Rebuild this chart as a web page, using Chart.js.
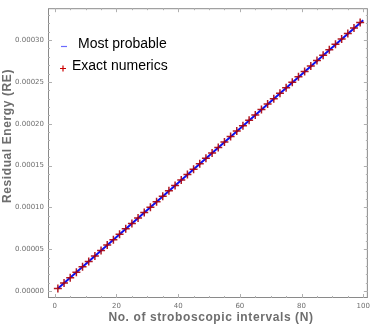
<!DOCTYPE html>
<html><head><meta charset="utf-8">
<script src="https://cdn.jsdelivr.net/npm/chart.js@4.4.1/dist/chart.umd.min.js"></script>
<style>html,body{margin:0;padding:0;background:#fff}#w{width:374px;height:327px}</style>
</head><body><div id="w"><canvas id="c"></canvas></div>
<script>
const seriesNames = ["Most probable", "Exact numerics"];
const exactN = [1,3,5,7,9,11,13,15,17,19,21,23,25,27,29,31,33,35,37,39,41,43,45,47,49,51,53,55,57,59,61,63,65,67,69,71,73,75,77,79,81,83,85,87,89,91,93,95,97,99];
const exactRE = [3.2e-6,9.7e-6,16.2e-6,22.7e-6,29.2e-6,35.6e-6,42.1e-6,48.6e-6,55.1e-6,61.6e-6,68.0e-6,74.5e-6,81.0e-6,87.5e-6,94.0e-6,100.4e-6,106.9e-6,113.4e-6,119.9e-6,126.4e-6,132.8e-6,139.3e-6,145.8e-6,152.3e-6,158.8e-6,165.2e-6,171.7e-6,178.2e-6,184.7e-6,191.2e-6,197.6e-6,204.1e-6,210.6e-6,217.1e-6,223.6e-6,230.0e-6,236.5e-6,243.0e-6,249.5e-6,256.0e-6,262.4e-6,268.9e-6,275.4e-6,281.9e-6,288.4e-6,294.8e-6,301.3e-6,307.8e-6,314.3e-6,320.8e-6];
const probableN = [1,25,50,75,100];
const probableRE = [3.2e-6,80.8e-6,161.8e-6,242.6e-6,323.5e-6];
const xTicks = [0,20,40,60,80,100];
const yTicks = [0,0.00005,0.0001,0.00015,0.0002,0.00025,0.0003];
const xTitle = "No. of stroboscopic intervals (N)";
const yTitle = "Residual Energy (RE)";

const frameColor = '#8a8a8a';
const framePlugin = {
  id:'frame',
  afterDraw(chart){
    const {ctx, chartArea:a, scales:{x,y}} = chart;
    ctx.save();
    ctx.strokeStyle = frameColor; ctx.lineWidth = 1;
    ctx.strokeRect(a.left+0.5, a.top+0.5, a.right-a.left-1, a.bottom-a.top-1);
    ctx.strokeStyle = '#b0b0b0';
    for (let v=0; v<=100; v+=5){
      const px = Math.round(x.getPixelForValue(v))+0.5;
      const L = (v%20===0)?4:2;
      ctx.beginPath(); ctx.moveTo(px,a.bottom); ctx.lineTo(px,a.bottom-L);
      ctx.moveTo(px,a.top); ctx.lineTo(px,a.top+L); ctx.stroke();
    }
    for (let i=0;i<=34;i++){
      const v=i*0.00001;
      const py = Math.round(y.getPixelForValue(v))+0.5;
      if (py<a.top||py>a.bottom) continue;
      const L = (i%5===0)?4:2;
      ctx.beginPath(); ctx.moveTo(a.left,py); ctx.lineTo(a.left+L,py);
      ctx.moveTo(a.right,py); ctx.lineTo(a.right-L,py); ctx.stroke();
    }
    // axis titles
    ctx.fillStyle = '#6e6e6e';
    ctx.font = 'bold 12px "Liberation Sans", Arial, sans-serif';
    ctx.letterSpacing = '0.6px';
    ctx.textAlign = 'center'; ctx.textBaseline = 'middle';
    ctx.fillText(xTitle, 211, 318);
    ctx.save();
    ctx.translate(8, 136); ctx.rotate(-Math.PI/2);
    ctx.fillText(yTitle, 0, 0);
    ctx.restore();
    ctx.letterSpacing = '0px';
    // legend
    ctx.textAlign = 'left';
    ctx.fillStyle = '#000';
    ctx.font = '14px "Liberation Sans", Arial, sans-serif';
    ctx.textBaseline = 'alphabetic';
    ctx.fillText(seriesNames[0], 78, 48);
    ctx.fillText(seriesNames[1], 72, 70);
    ctx.strokeStyle = '#6a6aff'; ctx.lineWidth = 1.2;
    ctx.beginPath(); ctx.moveTo(61,46.5); ctx.lineTo(67,46.5); ctx.stroke();
    ctx.strokeStyle = '#cc0000'; ctx.lineWidth = 1.2;
    ctx.beginPath(); ctx.moveTo(60,68.5); ctx.lineTo(66,68.5);
    ctx.moveTo(63,65.5); ctx.lineTo(63,71.5); ctx.stroke();
    ctx.restore();
  }
};

new Chart(document.getElementById('c'), {
  type:'scatter',
  data:{datasets:[
    {label:seriesNames[0], type:'line', data:probableN.map((n,i)=>({x:n,y:probableRE[i]})),
     borderColor:'#1010f0', borderWidth:2, pointRadius:0, showLine:true, order:2},
    {label:seriesNames[1], data:exactN.map((n,i)=>({x:n,y:exactRE[i]})),
     pointStyle:'cross', pointRadius:4, borderColor:'rgba(170,0,10,0.9)', borderWidth:1.5, backgroundColor:'rgba(170,0,10,0.9)', order:1}
  ]},
  plugins:[framePlugin],
  options:{
    responsive:true, maintainAspectRatio:false, animation:false,
    layout:{padding:{top:1,right:2,left:0,bottom:0}},
    plugins:{legend:{display:false}, tooltip:{enabled:false}},
    scales:{
      x:{type:'linear', min:-2.2, max:101.5,
        afterBuildTicks:s=>{s.ticks = xTicks.map(v=>({value:v}));},
        afterFit:s=>{s.height=29;},
        grid:{display:false, drawTicks:false}, border:{display:false},
        ticks:{color:'#6e6e6e', font:{size:7, family:'"DejaVu Sans", sans-serif'}, padding:4, maxRotation:0, callback:v=>String(v)},
        title:{display:false}
      },
      y:{type:'linear', min:-0.0000081, max:0.000338,
        afterBuildTicks:s=>{s.ticks = yTicks.map(v=>({value:v}));},
        afterFit:s=>{s.width=48;},
        grid:{display:false, drawTicks:false}, border:{display:false},
        ticks:{color:'#6e6e6e', font:{size:7, family:'"DejaVu Sans", sans-serif'}, padding:4, callback:v=>v.toFixed(5)},
        title:{display:false}
      }
    }
  }
});
</script></body></html>
